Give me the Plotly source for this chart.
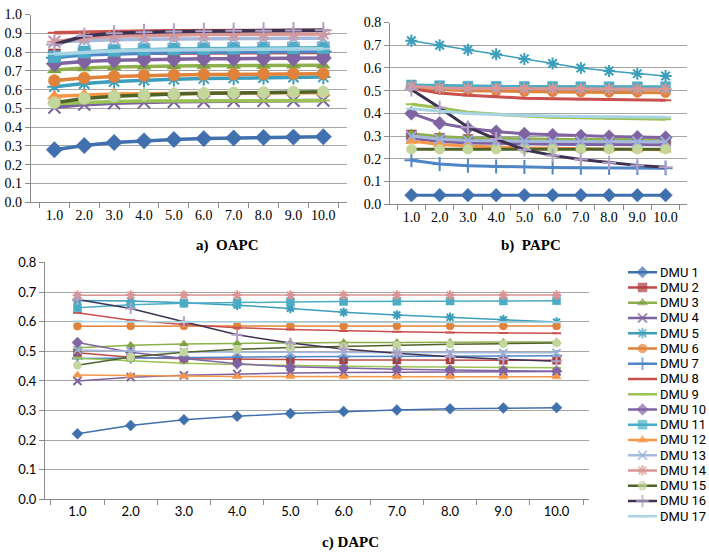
import plotly.graph_objects as go

# ---------------- data ----------------
periods = ["1.0", "2.0", "3.0", "4.0", "5.0", "6.0", "7.0", "8.0", "9.0", "10.0"]
dmu_names = ["DMU 1", "DMU 2", "DMU 3", "DMU 4", "DMU 5", "DMU 6", "DMU 7", "DMU 8", "DMU 9",
             "DMU 10", "DMU 11", "DMU 12", "DMU 13", "DMU 14", "DMU 15", "DMU 16", "DMU 17"]

# a) OAPC
oapc = [
    [0.280, 0.302, 0.318, 0.327, 0.334, 0.339, 0.342, 0.345, 0.347, 0.349],
    [0.785, 0.790, 0.792, 0.794, 0.795, 0.796, 0.797, 0.797, 0.798, 0.798],
    [0.705, 0.715, 0.720, 0.724, 0.726, 0.727, 0.728, 0.729, 0.730, 0.730],
    [0.505, 0.520, 0.527, 0.532, 0.535, 0.537, 0.539, 0.540, 0.541, 0.542],
    [0.615, 0.632, 0.643, 0.650, 0.655, 0.659, 0.662, 0.664, 0.666, 0.667],
    [0.648, 0.662, 0.670, 0.675, 0.678, 0.680, 0.682, 0.683, 0.684, 0.685],
    [0.770, 0.785, 0.790, 0.795, 0.797, 0.799, 0.800, 0.801, 0.802, 0.803],
    [0.903, 0.907, 0.910, 0.912, 0.913, 0.914, 0.915, 0.915, 0.916, 0.916],
    [0.525, 0.533, 0.537, 0.539, 0.540, 0.541, 0.541, 0.542, 0.542, 0.542],
    [0.738, 0.750, 0.756, 0.760, 0.762, 0.764, 0.765, 0.766, 0.767, 0.768],
    [0.775, 0.800, 0.808, 0.813, 0.816, 0.818, 0.820, 0.821, 0.822, 0.823],
    [0.565, 0.572, 0.576, 0.578, 0.580, 0.581, 0.582, 0.582, 0.583, 0.583],
    [0.855, 0.862, 0.866, 0.868, 0.870, 0.871, 0.872, 0.872, 0.873, 0.873],
    [0.855, 0.875, 0.884, 0.888, 0.891, 0.893, 0.894, 0.895, 0.896, 0.896],
    [0.530, 0.553, 0.565, 0.572, 0.577, 0.580, 0.583, 0.585, 0.587, 0.588],
    [0.840, 0.885, 0.900, 0.906, 0.909, 0.911, 0.913, 0.914, 0.915, 0.916],
    [0.790, 0.800, 0.806, 0.810, 0.812, 0.814, 0.815, 0.816, 0.817, 0.818],
]

# b) PAPC
papc = [
    [0.040, 0.040, 0.040, 0.040, 0.040, 0.040, 0.040, 0.040, 0.040, 0.040],
    [0.305, 0.290, 0.285, 0.282, 0.280, 0.279, 0.278, 0.277, 0.277, 0.276],
    [0.310, 0.298, 0.292, 0.289, 0.287, 0.286, 0.285, 0.285, 0.284, 0.284],
    [0.290, 0.276, 0.270, 0.267, 0.265, 0.264, 0.263, 0.263, 0.262, 0.262],
    [0.720, 0.700, 0.680, 0.660, 0.640, 0.620, 0.600, 0.587, 0.575, 0.565],
    [0.515, 0.505, 0.500, 0.497, 0.495, 0.494, 0.493, 0.492, 0.492, 0.491],
    [0.194, 0.177, 0.169, 0.166, 0.164, 0.162, 0.161, 0.160, 0.159, 0.158],
    [0.510, 0.490, 0.480, 0.472, 0.467, 0.464, 0.462, 0.460, 0.459, 0.458],
    [0.440, 0.425, 0.405, 0.395, 0.388, 0.383, 0.380, 0.378, 0.376, 0.374],
    [0.400, 0.357, 0.335, 0.320, 0.310, 0.305, 0.301, 0.298, 0.296, 0.294],
    [0.525, 0.522, 0.520, 0.519, 0.518, 0.518, 0.517, 0.517, 0.517, 0.517],
    [0.278, 0.263, 0.256, 0.251, 0.248, 0.246, 0.244, 0.242, 0.241, 0.240],
    [0.300, 0.287, 0.281, 0.278, 0.277, 0.276, 0.276, 0.275, 0.275, 0.275],
    [0.520, 0.512, 0.510, 0.509, 0.508, 0.508, 0.507, 0.507, 0.507, 0.507],
    [0.242, 0.242, 0.242, 0.242, 0.242, 0.242, 0.242, 0.242, 0.242, 0.242],
    [0.505, 0.425, 0.339, 0.287, 0.240, 0.215, 0.197, 0.183, 0.171, 0.163],
    [0.420, 0.410, 0.400, 0.395, 0.390, 0.388, 0.386, 0.385, 0.384, 0.383],
]

# c) DAPC
dapc = [
    [0.222, 0.250, 0.269, 0.281, 0.290, 0.297, 0.302, 0.306, 0.309, 0.310],
    [0.495, 0.480, 0.475, 0.473, 0.472, 0.471, 0.471, 0.471, 0.470, 0.470],
    [0.512, 0.521, 0.525, 0.527, 0.529, 0.530, 0.530, 0.531, 0.531, 0.532],
    [0.400, 0.413, 0.419, 0.424, 0.427, 0.429, 0.430, 0.431, 0.432, 0.432],
    [0.672, 0.670, 0.664, 0.656, 0.645, 0.632, 0.623, 0.615, 0.607, 0.599],
    [0.585, 0.586, 0.586, 0.586, 0.586, 0.586, 0.586, 0.586, 0.586, 0.586],
    [0.476, 0.478, 0.480, 0.481, 0.482, 0.483, 0.483, 0.484, 0.484, 0.485],
    [0.630, 0.605, 0.591, 0.580, 0.574, 0.569, 0.566, 0.564, 0.562, 0.561],
    [0.477, 0.468, 0.460, 0.456, 0.452, 0.450, 0.448, 0.447, 0.446, 0.445],
    [0.530, 0.497, 0.476, 0.458, 0.448, 0.443, 0.440, 0.437, 0.435, 0.433],
    [0.647, 0.657, 0.662, 0.665, 0.667, 0.668, 0.669, 0.670, 0.670, 0.671],
    [0.420, 0.418, 0.416, 0.415, 0.415, 0.414, 0.414, 0.414, 0.414, 0.414],
    [0.505, 0.500, 0.498, 0.497, 0.496, 0.496, 0.495, 0.495, 0.495, 0.495],
    [0.689, 0.690, 0.690, 0.690, 0.690, 0.690, 0.690, 0.690, 0.690, 0.690],
    [0.453, 0.481, 0.497, 0.507, 0.513, 0.517, 0.521, 0.524, 0.526, 0.528],
    [0.675, 0.645, 0.600, 0.556, 0.528, 0.508, 0.494, 0.482, 0.473, 0.467],
    [0.601, 0.600, 0.599, 0.599, 0.598, 0.598, 0.598, 0.598, 0.598, 0.598],
]

panel_titles = ["a)  OAPC", "b)  PAPC", "c) DAPC"]

# ---------------- styles ----------------
line_colors = ["#4170AE", "#BE4B48", "#8DB04C", "#7D60A0", "#3C9EBA", "#E0823A",
               "#4F86C6", "#C9504C", "#9BC255", "#8064A2", "#4BACC6", "#F79646",
               "#A5B9DC", "#D99694", "#4F6228", "#3F3151", "#A9D4E4"]
marker_colors = ["#4170AE", "#AA3F3C", "#7FA243", "#7D60A0", "#3C9EBA", "#E0823A",
                 "#4F86C6", "#C9504C", "#9BC255", "#8064A2", "#4BACC6", "#F79646",
                 "#9BB0D9", "#D99694", "#C3D69B", "#B3A2C7", "#A9D4E4"]
symbols = ["diamond", "square", "triangle-up", "x-thin-open", "asterisk-open", "circle",
           "cross-thin-open", "line-ew-open", "line-ew-open", "diamond", "square",
           "triangle-up", "x-thin-open", "asterisk-open", "circle", "cross-thin-open",
           "line-ew-open"]
open_symbols = {"x-thin-open", "asterisk-open", "cross-thin-open", "line-ew-open"}

W, H = 709, 558
serif = "'Liberation Serif', 'Times New Roman', serif"
sans = "Lato, 'Liberation Sans', sans-serif"
legend_font = "Roboto, 'Liberation Sans', sans-serif"
grid_col = "#A6A6A6"
axis_col = "#8C8C8C"


def pxx(x):
    return x / W


def pxy(y):
    return 1 - y / H


panels = [
    dict(data=oapc, xa="x", ya="y", lw=3.5, ms=12, thin=set()),
    dict(data=papc, xa="x2", ya="y2", lw=3.0, ms=10, thin={4}),
    dict(data=dapc, xa="x3", ya="y3", lw=1.5, ms=8, thin=set()),
]

fig = go.Figure()
for p in panels:
    for i, vals in enumerate(p["data"]):
        sym = symbols[i]
        lw = 1.5 if i in p["thin"] else p["lw"]
        ms = p["ms"]
        if sym.startswith("line-ew"):
            ms = p["ms"] * 0.8
        if sym == "diamond":
            ms = p["ms"] * 1.05
        fig.add_trace(go.Scatter(
            x=periods, y=vals, name=dmu_names[i], xaxis=p["xa"], yaxis=p["ya"],
            mode="lines+markers", showlegend=False,
            line=dict(color=line_colors[i], width=lw),
            marker=dict(symbol=sym, size=ms, color=marker_colors[i],
                        line=dict(color=marker_colors[i],
                                  width=2 if sym in open_symbols else 0.5)),
        ))

# manual legend (sample line + marker per series), rows every 15.7 px
leg_top, leg_step = 272, 15.7
for i, name in enumerate(dmu_names):
    sym = symbols[i]
    fig.add_trace(go.Scatter(
        x=[0, 0.5, 1], y=[-i, -i, -i], xaxis="x4", yaxis="y4", mode="lines+markers",
        showlegend=False, hoverinfo="skip", cliponaxis=False,
        line=dict(color=line_colors[i], width=2.5),
        marker=dict(symbol=sym, size=[0, 9 if not sym.startswith("line-ew") else 7, 0],
                    color=marker_colors[i],
                    line=dict(color=marker_colors[i], width=2 if sym in open_symbols else 0.5)),
    ))

common_x = dict(type="category", tickson="boundaries", ticks="outside", ticklen=5,
                tickcolor=axis_col, showline=True, linecolor=axis_col, linewidth=1,
                showgrid=False, zeroline=False, tickangle=0)
common_y = dict(tickformat=".1f", dtick=0.1, tick0=0, ticks="outside", ticklen=5,
                tickcolor=axis_col, showline=True, linecolor=axis_col, linewidth=1,
                showgrid=True, gridcolor=grid_col, gridwidth=1, zeroline=False)

n = len(dmu_names)
fig.update_layout(
    width=W, height=H, margin=dict(l=0, r=0, t=0, b=0),
    paper_bgcolor="white", plot_bgcolor="white", showlegend=False,
    xaxis=dict(common_x, domain=[pxx(30.7), pxx(347)], anchor="y",
               tickfont=dict(family=serif, size=14, color="black")),
    yaxis=dict(common_y, domain=[pxy(200), pxy(6.7)], anchor="x", range=[0, 1.0],
               tickfont=dict(family=serif, size=14, color="black")),
    xaxis2=dict(common_x, domain=[pxx(390), pxx(687)], anchor="y2",
                tickfont=dict(family=serif, size=14, color="black")),
    yaxis2=dict(common_y, domain=[pxy(202), pxy(15)], anchor="x2", range=[0, 0.8],
                tickfont=dict(family=serif, size=14, color="black")),
    xaxis3=dict(common_x, domain=[pxx(45), pxx(589)], anchor="y3",
                tickfont=dict(family=sans, size=13, color="black")),
    yaxis3=dict(common_y, domain=[pxy(506), pxy(262)], anchor="x3", range=[0, 0.8],
                tickfont=dict(family=sans, size=13, color="black")),
    xaxis4=dict(domain=[pxx(628), pxx(657)], anchor="y4", range=[0, 1], visible=False),
    yaxis4=dict(domain=[pxy(leg_top + (n - 0.5) * leg_step), pxy(leg_top - 0.5 * leg_step)],
                anchor="x4", range=[-(n - 0.5), 0.5], visible=False),
)

annotations = []
title_pos = [(227.5, 245), (531, 245), (350, 550)]
for t, (tx, ty) in zip(panel_titles, title_pos):
    annotations.append(dict(text="<b>%s</b>" % t, x=pxx(tx), y=pxy(ty), xref="paper",
                            yref="paper", showarrow=False, xanchor="center", yanchor="middle",
                            font=dict(family=serif, size=15, color="black")))
for i, name in enumerate(dmu_names):
    annotations.append(dict(text=name, x=pxx(659), y=pxy(leg_top + i * leg_step),
                            xref="paper", yref="paper", showarrow=False,
                            xanchor="left", yanchor="middle", borderpad=0,
                            font=dict(family=legend_font, size=13, color="black")))
fig.update_layout(annotations=annotations)

fig.write_html("out.html", config={"displayModeBar": False},
               post_script="document.body.style.margin='0';document.body.style.overflow='hidden';")
